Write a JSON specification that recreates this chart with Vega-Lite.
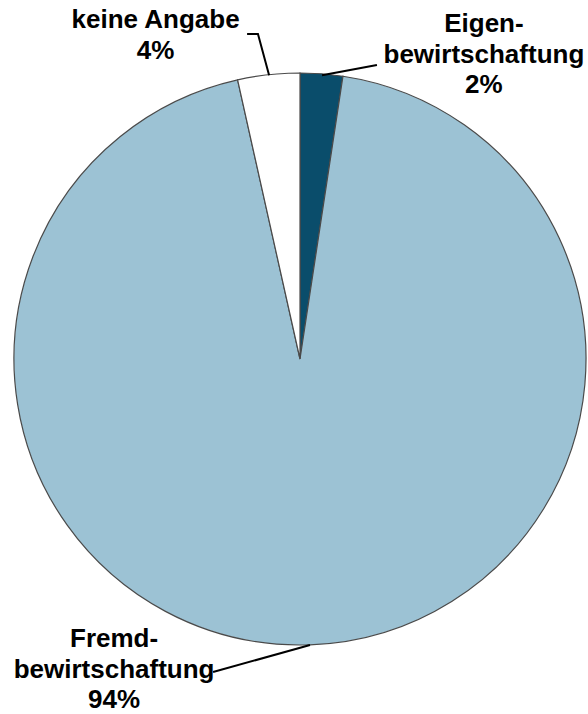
{
  "$schema": "https://vega.github.io/schema/vega-lite/v6.json",
  "width": 576,
  "height": 710,
  "autosize": "none",
  "padding": {"left": 12, "top": 4, "right": 0, "bottom": 0},
  "background": "white",
  "config": {"view": {"stroke": null}},
  "datasets": {
    "shares": [
      {"kategorie": "Eigenbewirtschaftung", "anteil": 2.4, "reihenfolge": 1},
      {"kategorie": "Fremdbewirtschaftung", "anteil": 94.1, "reihenfolge": 2},
      {"kategorie": "keine Angabe", "anteil": 3.5, "reihenfolge": 3}
    ],
    "leaders": [
      {"gruppe": "keine Angabe", "i": 1, "x": -18.5, "y": 113.6},
      {"gruppe": "keine Angabe", "i": 2, "x": -14.7, "y": 113.6},
      {"gruppe": "keine Angabe", "i": 3, "x": -10.8, "y": 99.2},
      {"gruppe": "Eigenbewirtschaftung", "i": 1, "x": 7.7, "y": 99.2},
      {"gruppe": "Eigenbewirtschaftung", "i": 2, "x": 26.9, "y": 102.8},
      {"gruppe": "Fremdbewirtschaftung", "i": 1, "x": -30.4, "y": -109.4},
      {"gruppe": "Fremdbewirtschaftung", "i": 2, "x": 3.5, "y": -100.0}
    ],
    "labels": [
      {"text": "keine Angabe\n4%", "x": -50.5, "y": 118.5},
      {"text": "Eigen-\nbewirtschaftung\n2%", "x": 64.3, "y": 117.1},
      {"text": "Fremd-\nbewirtschaftung\n94%", "x": -65.0, "y": -97.9}
    ]
  },
  "layer": [
    {
      "data": {"name": "shares"},
      "mark": {"type": "arc", "radius": 286, "stroke": "#4a4a4a", "strokeWidth": 1.2},
      "encoding": {
        "theta": {"field": "anteil", "type": "quantitative", "stack": true},
        "order": {"field": "reihenfolge", "type": "quantitative"},
        "color": {
          "field": "kategorie",
          "type": "nominal",
          "scale": {
            "domain": ["Eigenbewirtschaftung", "Fremdbewirtschaftung", "keine Angabe"],
            "range": ["#0a4d6b", "#9cc2d4", "#ffffff"]
          },
          "legend": null
        }
      }
    },
    {
      "data": {"name": "leaders"},
      "mark": {"type": "line", "color": "black", "strokeWidth": 2},
      "encoding": {
        "x": {"field": "x", "type": "quantitative", "scale": {"domain": [-100.7, 100.7], "nice": false, "zero": false}, "axis": null},
        "y": {"field": "y", "type": "quantitative", "scale": {"domain": [-124.1, 124.1], "nice": false, "zero": false}, "axis": null},
        "detail": {"field": "gruppe", "type": "nominal"},
        "order": {"field": "i", "type": "quantitative"}
      }
    },
    {
      "data": {"name": "labels"},
      "mark": {"type": "text", "font": "Liberation Sans", "fontWeight": "bold", "fontSize": 26, "lineHeight": 30.5, "lineBreak": "\n", "align": "center", "baseline": "middle", "color": "black"},
      "encoding": {
        "x": {"field": "x", "type": "quantitative", "scale": {"domain": [-100.7, 100.7], "nice": false, "zero": false}, "axis": null},
        "y": {"field": "y", "type": "quantitative", "scale": {"domain": [-124.1, 124.1], "nice": false, "zero": false}, "axis": null},
        "text": {"field": "text", "type": "nominal"}
      }
    }
  ]
}
